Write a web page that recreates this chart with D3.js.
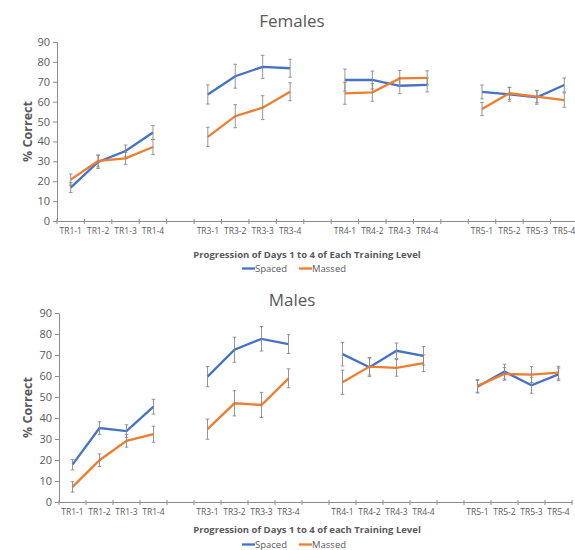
<!DOCTYPE html>
<html><head><meta charset="utf-8">
<script src="https://cdn.jsdelivr.net/npm/d3@7"></script>
<style>body{margin:0;background:#fff}svg{display:block}</style>
</head><body>
<svg id="c" width="575" height="550"></svg>
<script>
const slots = ["TR1-1","TR1-2","TR1-3","TR1-4","g1","TR3-1","TR3-2","TR3-3","TR3-4","g2","TR4-1","TR4-2","TR4-3","TR4-4","g3","TR5-1","TR5-2","TR5-3","TR5-4"];
const categories = slots.filter(s => !s.startsWith("g"));
const levels = ["TR1","TR3","TR4","TR5"];
const yTicks = [0,10,20,30,40,50,60,70,80,90];
const seriesNames = ["Spaced","Massed"];
const seriesColors = ["#4472C4","#ED7D31"];

const femalesSpaced    = [16.8,29.7,35.2,44.5, 63.6,72.8,77.5,76.8, 70.9,70.9,68.0,68.4, 64.9,63.7,62.2,68.4];
const femalesSpacedErr = [2.5,3.3,3,3.5, 4.8,6,5.8,4.5, 5.5,4.5,4,3.5, 3.5,3.5,3.5,3.5];
const femalesMassed    = [20.8,30.2,31.5,37.2, 42.3,52.7,57.0,65.0, 64.2,64.7,71.7,72.0, 56.3,64.2,62.5,60.8];
const femalesMassedErr = [2.8,3,3,3.8, 4.8,5.8,6,4.5, 5.5,4.5,4,3.5, 3.3,3,3,3.6];

const malesSpaced    = [17.8,35.2,33.8,45.4, 59.7,72.5,77.7,75.2, 70.4,64.2,72.0,69.6, 54.9,62.1,55.6,60.8];
const malesSpacedErr = [2.5,3,3,3.5, 4.8,6,5.8,4.5, 5.6,4.5,3.7,4.4, 3,3.5,3.8,3];
const malesMassed    = [7.2,19.9,29.1,32.3, 34.7,47.0,46.2,58.9, 57.0,64.5,63.9,66.1, 55.3,61.0,60.7,61.6];
const malesMassedErr = [2.5,3,3,3.8, 4.8,6,6,4.5, 5.8,4,4,4, 3,3,3.8,3];

const svg = d3.select("#c");
const font = "'Open Sans', 'Liberation Sans', sans-serif";
const grey = "#595959";

function drawPanel(cfg) {
  const g = svg.append("g");
  const x = d3.scaleBand().domain(slots).range([cfg.x0, cfg.x1]).padding(0);
  const y = d3.scaleLinear().domain([0,90]).range([cfg.yb, cfg.yt]);

  g.append("text").attr("x", cfg.tx).attr("y", cfg.ty).attr("text-anchor","middle")
    .attr("font-family", font).attr("font-size", 17).attr("fill", grey).text(cfg.title);

  const ya = g.append("g").attr("transform", `translate(${cfg.x0},0)`)
    .call(d3.axisLeft(y).tickValues(yTicks).tickSize(4).tickSizeOuter(0));
  ya.select(".domain").attr("stroke","#8c8c8c");
  ya.selectAll(".tick line").attr("stroke","#8c8c8c");
  ya.selectAll(".tick text").attr("font-family", font).attr("font-size", 11).attr("fill", grey).attr("x", -7);

  const xa = g.append("g").attr("transform", `translate(0,${cfg.yb})`)
    .call(d3.axisBottom(x).tickSize(0).tickSizeOuter(0).tickFormat(d => d.startsWith("g") ? "" : d));
  xa.select(".domain").attr("stroke","#8c8c8c");
  xa.selectAll(".tick text").attr("font-family", font).attr("font-size", 8.5).attr("fill", grey).attr("dy","0.71em").attr("y", 7);
  const bounds = slots.map(s => x(s)).concat([x(slots[slots.length-1]) + x.bandwidth()]);
  xa.selectAll("line.bt").data(bounds).enter().append("line").attr("class","bt")
    .attr("x1", d => d).attr("x2", d => d).attr("y1", -2).attr("y2", 3).attr("stroke","#8c8c8c");

  g.append("text").attr("transform", `translate(${cfg.ylx},${(cfg.yt+cfg.yb)/2}) rotate(-90)`)
    .attr("text-anchor","middle").attr("font-family", font).attr("font-weight","bold")
    .attr("font-size", 12.5).attr("fill", grey).text("% Correct");

  g.append("text").attr("x", 307).attr("y", cfg.xty).attr("text-anchor","middle")
    .attr("font-family", font).attr("font-weight","bold").attr("font-size", 9.5).attr("fill", grey).text(cfg.xtitle);

  cfg.series.forEach((s, si) => {
    const pts = categories.map((c, i) => ({c, v: s.vals[i], e: s.errs[i], lvl: c.split("-")[0]}));
    const line = d3.line().x(d => x(d.c) + x.bandwidth()/2).y(d => y(d.v));
    levels.forEach(l => {
      g.append("path").datum(pts.filter(p => p.lvl === l)).attr("d", line)
        .attr("fill","none").attr("stroke", seriesColors[si]).attr("stroke-width", 2.3);
    });
    const eb = g.append("g");
    pts.forEach(p => {
      const cx = x(p.c) + x.bandwidth()/2;
      eb.append("line").attr("x1",cx).attr("x2",cx).attr("y1",y(p.v+p.e)).attr("y2",y(p.v-p.e))
        .attr("stroke","#8a8a8a").attr("stroke-width",0.9);
      [p.v+p.e, p.v-p.e].forEach(v => eb.append("line").attr("x1",cx-1.8).attr("x2",cx+1.8)
        .attr("y1",y(v)).attr("y2",y(v)).attr("stroke","#8a8a8a").attr("stroke-width",0.9));
    });
  });

  const lg = g.append("g").attr("transform", `translate(0,${cfg.ly})`);
  const lx = [cfg.lx0, cfg.lx0 + 57];
  seriesNames.forEach((n, i) => {
    lg.append("line").attr("x1", lx[i]).attr("x2", lx[i]+13).attr("y1",0).attr("y2",0)
      .attr("stroke", seriesColors[i]).attr("stroke-width", 2.3);
    lg.append("text").attr("x", lx[i]+13).attr("y", 3.5).attr("font-family", font)
      .attr("font-size", 9.5).attr("fill", grey).text(n);
  });
}

drawPanel({
  title: "Females", tx: 292, ty: 27,
  x0: 57, x1: 578, yt: 42, yb: 221, ylx: 32,
  xtitle: "Progression of Days 1 to 4 of Each Training Level", xty: 257.5, ly: 268.5, lx0: 242,
  series: [{vals: femalesSpaced, errs: femalesSpacedErr}, {vals: femalesMassed, errs: femalesMassedErr}]
});
drawPanel({
  title: "Males", tx: 292, ty: 306,
  x0: 59, x1: 572, yt: 313, yb: 502, ylx: 32,
  xtitle: "Progression of Days 1 to 4 of each Training Level", xty: 532.5, ly: 544.5, lx0: 242,
  series: [{vals: malesSpaced, errs: malesSpacedErr}, {vals: malesMassed, errs: malesMassedErr}]
});
</script>
</body></html>
